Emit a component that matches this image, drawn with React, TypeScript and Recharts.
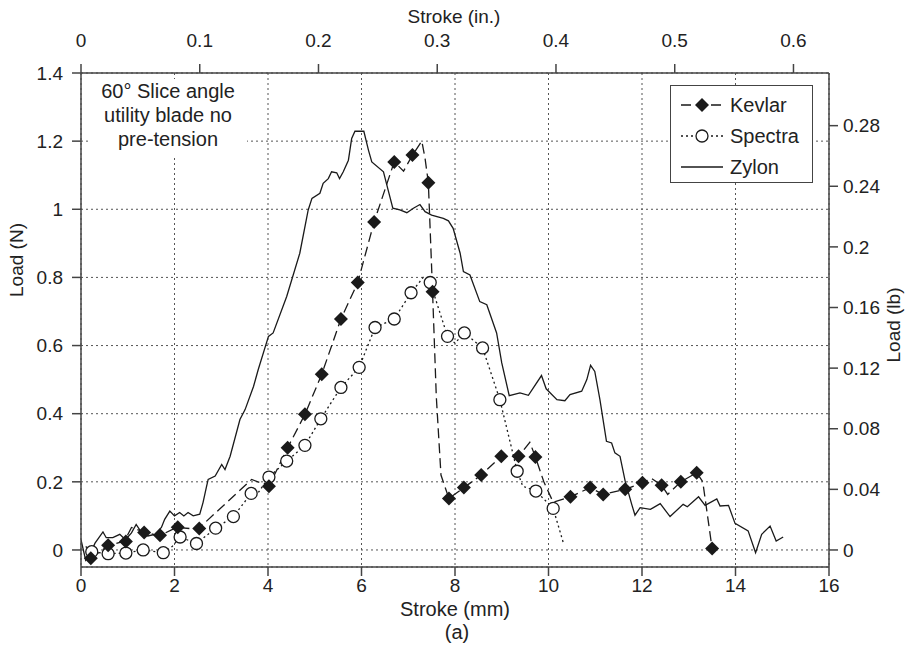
import React from "react";
import { ComposedChart, Line, Scatter, XAxis, YAxis, CartesianGrid, Label } from "recharts";

// stroke (mm), load (N) pairs
const kevlarTrace: [number, number][] = [
  [0.21, -0.025], [0.58, 0.012], [0.93, 0.026], [1.08, 0.066], [1.35, 0.053], [1.67, 0.041],
  [2.04, 0.066], [2.5, 0.061], [3.65, 0.207], [4.02, 0.187], [4.42, 0.3], [4.79, 0.398],
  [5.15, 0.516], [5.56, 0.678], [5.92, 0.785], [6.27, 0.963], [6.7, 1.139], [6.9, 1.112],
  [7.09, 1.159], [7.29, 1.2], [7.36, 1.149], [7.43, 1.078], [7.48, 0.9], [7.52, 0.758],
  [7.6, 0.45], [7.7, 0.22], [7.87, 0.151], [8.19, 0.183], [8.56, 0.22], [8.99, 0.275],
  [9.36, 0.275], [9.6, 0.316], [9.72, 0.273], [9.9, 0.2], [10.1, 0.14], [10.47, 0.156],
  [10.89, 0.183], [11.17, 0.163], [11.64, 0.178], [12.01, 0.197], [12.2, 0.21], [12.42, 0.19],
  [12.55, 0.163], [12.83, 0.2], [13.17, 0.227], [13.3, 0.2], [13.5, 0.004],
];
const kevlarMarks: [number, number][] = [
  [0.21, -0.024], [0.58, 0.014], [0.96, 0.025], [1.35, 0.051], [1.69, 0.043], [2.07, 0.067],
  [2.53, 0.063], [4.02, 0.187], [4.42, 0.3], [4.79, 0.398], [5.15, 0.516], [5.56, 0.678],
  [5.92, 0.785], [6.27, 0.963], [6.7, 1.139], [7.09, 1.159], [7.43, 1.078], [7.52, 0.758],
  [7.87, 0.151], [8.19, 0.183], [8.56, 0.22], [8.99, 0.275], [9.36, 0.275], [9.72, 0.273],
  [10.47, 0.156], [10.89, 0.183], [11.17, 0.163], [11.64, 0.178], [12.01, 0.197], [12.42, 0.19],
  [12.83, 0.2], [13.17, 0.227], [13.5, 0.004],
];
const spectraTrace: [number, number][] = [
  [0.1, 0.01], [0.23, -0.005], [0.58, -0.011], [0.96, -0.009], [1.33, 0.0], [1.76, -0.008],
  [1.95, 0.01], [2.12, 0.038], [2.47, 0.019], [2.88, 0.064], [3.26, 0.098], [3.64, 0.166],
  [3.75, 0.16], [4.02, 0.214], [4.4, 0.261], [4.79, 0.307], [5.13, 0.385], [5.56, 0.477],
  [5.95, 0.536], [6.29, 0.653], [6.7, 0.678], [7.06, 0.755], [7.32, 0.8], [7.47, 0.785],
  [7.84, 0.627], [8.0, 0.607], [8.2, 0.637], [8.59, 0.593], [8.96, 0.441], [9.33, 0.231],
  [9.45, 0.187], [9.73, 0.173], [10.1, 0.122], [10.33, 0.015],
];
const spectraMarks: [number, number][] = [
  [0.23, -0.005], [0.58, -0.011], [0.96, -0.009], [1.33, 0.0], [1.76, -0.008], [2.12, 0.038],
  [2.47, 0.019], [2.88, 0.064], [3.26, 0.098], [3.64, 0.166], [4.02, 0.214], [4.4, 0.261],
  [4.79, 0.307], [5.13, 0.385], [5.56, 0.477], [5.95, 0.536], [6.29, 0.653], [6.7, 0.678],
  [7.06, 0.755], [7.47, 0.785], [7.84, 0.627], [8.2, 0.637], [8.59, 0.593], [8.96, 0.441],
  [9.33, 0.231], [9.73, 0.173], [10.1, 0.122],
];
const zylonTrace: [number, number][] = [
  [0.0, 0.03], [0.1, -0.03], [0.2, -0.01], [0.3, 0.02], [0.47, 0.053], [0.54, 0.036],
  [0.68, 0.036], [0.83, 0.046], [0.95, 0.03], [1.08, 0.05], [1.18, 0.075], [1.3, 0.05],
  [1.43, 0.041], [1.58, 0.046], [1.72, 0.066], [1.79, 0.09], [1.9, 0.114], [2.0, 0.1],
  [2.11, 0.11], [2.2, 0.1], [2.29, 0.11], [2.4, 0.1], [2.54, 0.105], [2.61, 0.139],
  [2.68, 0.183], [2.72, 0.207], [2.87, 0.217], [3.01, 0.251], [3.08, 0.236], [3.19, 0.275],
  [3.4, 0.383], [3.51, 0.412], [3.69, 0.48], [3.79, 0.529], [4.01, 0.627], [4.11, 0.637],
  [4.4, 0.744], [4.68, 0.871], [4.86, 0.998], [4.94, 1.032], [5.11, 1.047], [5.18, 1.076],
  [5.29, 1.09], [5.36, 1.11], [5.47, 1.107], [5.53, 1.09], [5.61, 1.11], [5.72, 1.144],
  [5.79, 1.208], [5.86, 1.229], [6.05, 1.229], [6.15, 1.173], [6.22, 1.139], [6.47, 1.11],
  [6.57, 1.056], [6.67, 1.003], [6.82, 0.998], [6.97, 0.99], [7.11, 1.003], [7.25, 1.014],
  [7.36, 0.993], [7.5, 0.983], [7.75, 0.973], [7.86, 0.966], [7.96, 0.944], [8.11, 0.871],
  [8.18, 0.817], [8.32, 0.807], [8.53, 0.729], [8.68, 0.72], [8.89, 0.637], [9.0, 0.549],
  [9.16, 0.453], [9.39, 0.461], [9.57, 0.454], [9.85, 0.512], [9.95, 0.473], [10.18, 0.441],
  [10.35, 0.438], [10.46, 0.456], [10.71, 0.466], [10.82, 0.5], [10.9, 0.542], [10.99, 0.524],
  [11.1, 0.441], [11.24, 0.319], [11.35, 0.314], [11.42, 0.285], [11.53, 0.275], [11.64, 0.202],
  [11.78, 0.134], [11.85, 0.102], [11.96, 0.124], [12.18, 0.119], [12.39, 0.136], [12.6, 0.098],
  [12.88, 0.134], [12.97, 0.127], [13.21, 0.156], [13.35, 0.131], [13.6, 0.15], [13.67, 0.129],
  [13.85, 0.131], [13.99, 0.078], [14.27, 0.056], [14.43, -0.008], [14.56, 0.046], [14.74, 0.07],
  [14.87, 0.026], [15.02, 0.038],
];

const mmTicks = [0, 2, 4, 6, 8, 10, 12, 14, 16];
const inTicks = [0, 0.1, 0.2, 0.3, 0.4, 0.5, 0.6];
const nTicks = [0, 0.2, 0.4, 0.6, 0.8, 1, 1.2, 1.4];
const lbTicks = [0, 0.04, 0.08, 0.12, 0.16, 0.2, 0.24, 0.28];

const N_PER_LB = 4.448;
const MM_PER_IN = 25.4;
const yMin = -0.05;
const yMax = 1.4;

const pts = (a: [number, number][]) => a.map(([x, y]) => ({ x, y }));
// same Zylon trace in inches / lbf, only to carry the secondary axes
const zylonImperial = zylonTrace.map(([x, y]) => ({ x: x / MM_PER_IN, y: y / N_PER_LB }));

const FONT = "'Liberation Sans', Arial, sans-serif";
const NARROW = "'Liberation Sans Narrow', 'Arial Narrow', 'Liberation Sans', sans-serif";
const INK = "#222";
const AXIS = "#444";

const Diamond = (p: any) => (
  <polygon
    points={`${p.cx},${p.cy - 7} ${p.cx + 7},${p.cy} ${p.cx},${p.cy + 7} ${p.cx - 7},${p.cy}`}
    fill="#1a1a1a"
  />
);
const Ring = (p: any) => <circle cx={p.cx} cy={p.cy} r={6} fill="#fff" stroke="#1a1a1a" strokeWidth={1.3} />;

const tickStyle = { fontSize: 19, fill: INK, fontFamily: FONT };

const LegendBox = () => (
  <div
    style={{
      position: "absolute", left: 670, top: 85, width: 141, height: 96, background: "#fff",
      border: "1.3px solid #444", fontFamily: FONT, fontSize: 20, color: INK,
    }}
  >
    {[
      { name: "Kevlar", dash: "10 5", mark: "d" },
      { name: "Spectra", dash: "2 3", mark: "c" },
      { name: "Zylon", dash: "", mark: "" },
    ].map((e, i) => (
      <div key={e.name} style={{ position: "absolute", left: 8, top: 4 + i * 31, height: 30, display: "flex", alignItems: "center" }}>
        <svg width={46} height={20}>
          <line x1={2} y1={10} x2={44} y2={10} stroke="#1a1a1a" strokeWidth={1.3} strokeDasharray={e.dash || undefined} />
          {e.mark === "d" && <polygon points="23,3 30,10 23,17 16,10" fill="#1a1a1a" />}
          {e.mark === "c" && <circle cx={23} cy={10} r={6} fill="#fff" stroke="#1a1a1a" strokeWidth={1.3} />}
        </svg>
        <span style={{ marginLeft: 5 }}>{e.name}</span>
      </div>
    ))}
  </div>
);

const Note = () => (
  <div
    style={{
      position: "absolute", left: 89, top: 79, width: 158, height: 78, background: "#fff",
      fontFamily: FONT, fontSize: 20, color: INK, textAlign: "center", lineHeight: "24px",
    }}
  >
    60° Slice angle
    <br />
    utility blade no
    <br />
    pre-tension
  </div>
);

export default function App() {
  return (
    <div style={{ position: "absolute", left: 0, top: 0, width: 908, height: 653, background: "#fff" }}>
      <ComposedChart width={908} height={653} margin={{ top: 0, right: 0, bottom: 0, left: 0 }}>
        <CartesianGrid xAxisId="mm" yAxisId="n" stroke="#555" strokeDasharray="2 3" strokeWidth={1} />
        <XAxis
          xAxisId="mm" type="number" dataKey="x" domain={[0, 16]} ticks={mmTicks} interval={0}
          allowDataOverflow height={86} tickSize={9} tickMargin={3} tick={tickStyle}
          stroke={AXIS} strokeWidth={1.5}
        >
          <Label
            content={() => (
              <g fontFamily={FONT} fontSize={20} fill={INK} textAnchor="middle">
                <text x={455} y={616}>Stroke (mm)</text>
                <text x={457} y={639}>(a)</text>
              </g>
            )}
          />
        </XAxis>
        <XAxis
          xAxisId="in" orientation="top" type="number" dataKey="x" domain={[0, 16 / MM_PER_IN]} ticks={inTicks}
          interval={0} allowDataOverflow height={73} tickSize={9} tickMargin={17}
          tick={{ ...tickStyle, fontFamily: NARROW }} stroke={AXIS} strokeWidth={1.5}
        >
          <Label
            content={() => (
              <text x={454} y={23} textAnchor="middle" fontFamily={NARROW} fontSize={19} fill={INK}>
                Stroke (in.)
              </text>
            )}
          />
        </XAxis>
        <YAxis
          yAxisId="n" type="number" dataKey="y" domain={[yMin, yMax]} ticks={nTicks} interval={0}
          allowDataOverflow width={81} tickSize={9} tickMargin={9} tick={tickStyle}
          stroke={AXIS} strokeWidth={1.5}
        >
          <Label
            content={() => (
              <text x={23} y={260} transform="rotate(-90 23 260)" textAnchor="middle" fontFamily={FONT} fontSize={19} fill={INK}>
                Load (N)
              </text>
            )}
          />
        </YAxis>
        <YAxis
          yAxisId="lb" orientation="right" type="number" dataKey="y" domain={[yMin / N_PER_LB, yMax / N_PER_LB]}
          ticks={lbTicks} interval={0} allowDataOverflow width={79} tickSize={9} tickMargin={5}
          tick={tickStyle} stroke={AXIS} strokeWidth={1.5}
        >
          <Label
            content={() => (
              <text x={900} y={325} transform="rotate(-90 900 325)" textAnchor="middle" fontFamily={FONT} fontSize={19} fill={INK}>
                Load (lb)
              </text>
            )}
          />
        </YAxis>

        <Line
          xAxisId="in" yAxisId="lb" data={zylonImperial} dataKey="y" type="linear" dot={false}
          stroke="none" legendType="none" isAnimationActive={false}
        />
        <Line
          xAxisId="mm" yAxisId="n" data={pts(zylonTrace)} dataKey="y" type="linear" dot={false}
          stroke="#1a1a1a" strokeWidth={1.3} isAnimationActive={false}
        />
        <Line
          xAxisId="mm" yAxisId="n" data={pts(spectraTrace)} dataKey="y" type="linear" dot={false}
          stroke="#1a1a1a" strokeWidth={1.3} strokeDasharray="2 3" isAnimationActive={false}
        />
        <Line
          xAxisId="mm" yAxisId="n" data={pts(kevlarTrace)} dataKey="y" type="linear" dot={false}
          stroke="#1a1a1a" strokeWidth={1.3} strokeDasharray="10 5" isAnimationActive={false}
        />
        <Scatter
          xAxisId="mm" yAxisId="n" data={pts(spectraMarks)} dataKey="y" shape={Ring} isAnimationActive={false}
        />
        <Scatter
          xAxisId="mm" yAxisId="n" data={pts(kevlarMarks)} dataKey="y" shape={Diamond} isAnimationActive={false}
        />
      </ComposedChart>
      <Note />
      <LegendBox />
    </div>
  );
}
